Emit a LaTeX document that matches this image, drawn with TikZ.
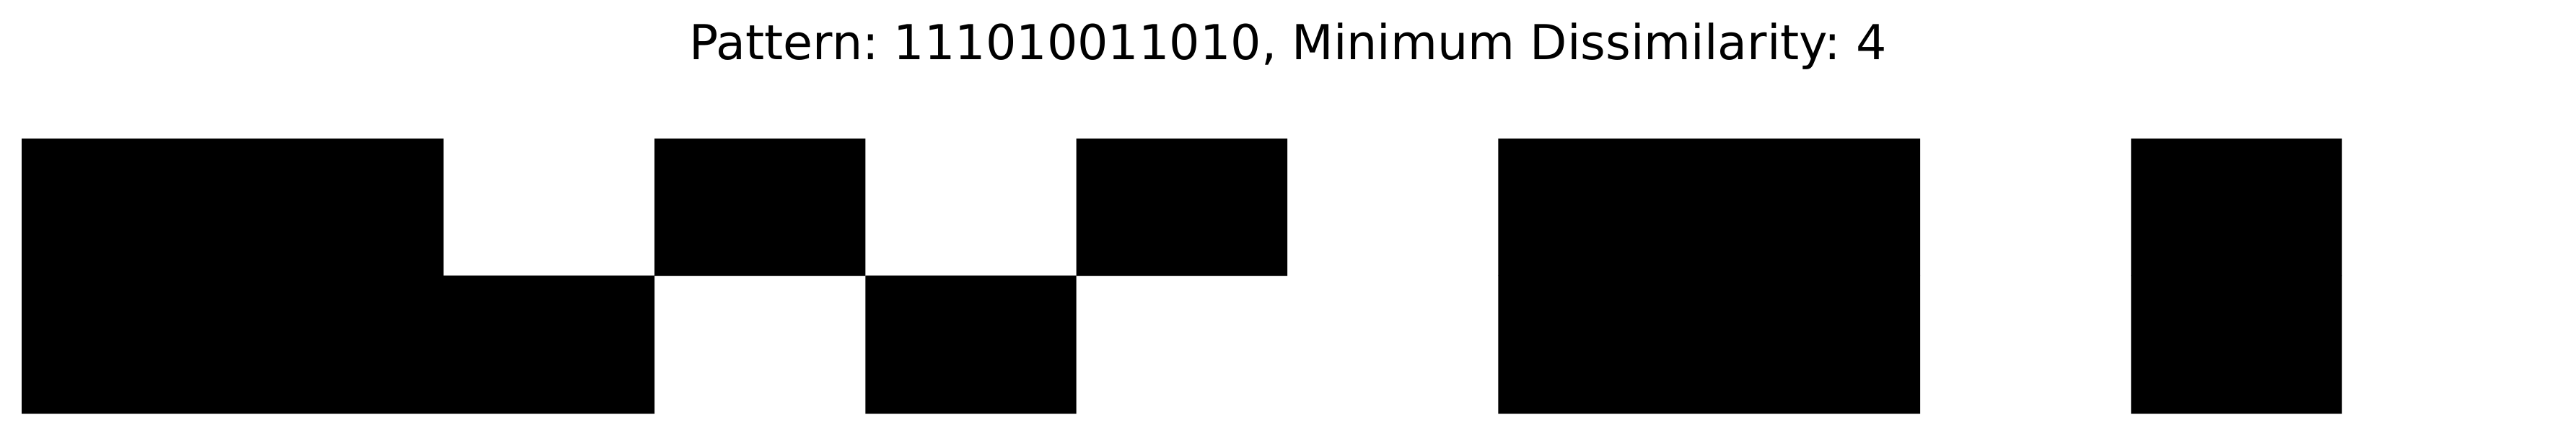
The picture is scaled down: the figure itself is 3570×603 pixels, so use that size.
\documentclass[tikz,border=0pt]{standalone}
\usepackage{fontspec}
\setmainfont{DejaVu Sans}
\usetikzlibrary{positioning}
\frenchspacing
\tikzset{titlestyle/.style={font=\fontsize{66.7}{80}\selectfont,inner sep=0pt,anchor=base}}
\newcommand{\cellw}{292.33}
\begin{document}
\begin{tikzpicture}[x=1pt,y=1pt]
  \useasboundingbox (0,0) rectangle (3570,603);
  \node[titlestyle] (title) at (1785,520.5) {Pattern: 111010011010, Minimum Dissimilarity: 4};

  % top row
  \fill[black] \foreach \c in {1,2,4,6,8,9,11}
    {(30+\cellw*\c-\cellw,221) rectangle (30+\cellw*\c,411)};
  % bottom row (the pattern)
  \fill[black] \foreach \c in {1,2,3,5,8,9,11}
    {(30+\cellw*\c-\cellw,30) rectangle (30+\cellw*\c,221.4)};
\end{tikzpicture}
\end{document}
